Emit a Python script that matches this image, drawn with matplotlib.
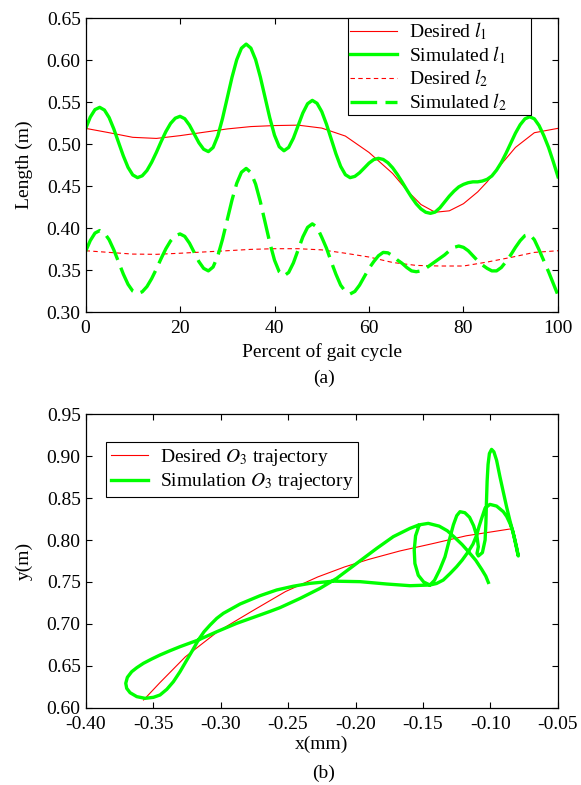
import matplotlib
matplotlib.use("Agg")
import matplotlib.pyplot as plt
from matplotlib.ticker import FormatStrFormatter

plt.rcParams['font.family'] = ['Liberation Serif', 'DejaVu Serif']
plt.rcParams['mathtext.fontset'] = 'stix'
plt.rcParams['axes.unicode_minus'] = False
plt.rcParams['font.size'] = 14

# ---- (a) leg lengths over the gait cycle ----
pct = list(range(0, 101))

sim_l1 = [
    0.518, 0.532, 0.541, 0.5437, 0.5405, 0.5315, 0.5178, 0.5018, 0.4859, 0.4722,
    0.4632, 0.460, 0.4622, 0.4685, 0.4783, 0.4901, 0.5029, 0.5148, 0.5245, 0.5308,
    0.533, 0.5302, 0.5225, 0.512, 0.5015, 0.4938, 0.491, 0.4959, 0.5097, 0.5306,
    0.555, 0.5794, 0.6003, 0.6141, 0.619, 0.6142, 0.6005, 0.5798, 0.5555, 0.5312,
    0.5105, 0.4968, 0.492, 0.496, 0.507, 0.522, 0.537, 0.548, 0.552, 0.5485,
    0.5386, 0.5236, 0.506, 0.4884, 0.4734, 0.4635, 0.460, 0.4615, 0.4658, 0.4715,
    0.4773, 0.4815, 0.483, 0.4817, 0.4778, 0.4717, 0.4638, 0.4549, 0.4456, 0.4367,
    0.4288, 0.4227, 0.4188, 0.4175, 0.419, 0.424, 0.431, 0.438, 0.444, 0.449,
    0.452, 0.454, 0.455, 0.455, 0.456, 0.458, 0.462, 0.469, 0.478, 0.489,
    0.501, 0.513, 0.523, 0.530, 0.5325, 0.530, 0.522, 0.510, 0.496, 0.479,
    0.461,
]

sim_l2 = [
    0.372, 0.385, 0.394, 0.397, 0.3941, 0.386, 0.3738, 0.3595, 0.3452, 0.333,
    0.3249, 0.322, 0.3241, 0.3303, 0.3398, 0.3513, 0.3637, 0.3753, 0.3847, 0.3909,
    0.393, 0.3901, 0.382, 0.371, 0.360, 0.352, 0.349, 0.3536, 0.3668, 0.3867,
    0.410, 0.4333, 0.4532, 0.4664, 0.471, 0.4661, 0.4523, 0.4314, 0.407, 0.3826,
    0.3617, 0.3479, 0.343, 0.3472, 0.3585, 0.374, 0.3895, 0.4008, 0.405, 0.401,
    0.389, 0.376, 0.360, 0.345, 0.332, 0.3245, 0.3215, 0.3245, 0.332, 0.342,
    0.352, 0.360, 0.367, 0.371, 0.3705, 0.367, 0.362, 0.358, 0.353, 0.349,
    0.348, 0.349, 0.352, 0.356, 0.360, 0.364, 0.368, 0.373, 0.377, 0.3786,
    0.377, 0.373, 0.367, 0.361, 0.356, 0.352, 0.349, 0.349, 0.353, 0.360,
    0.368, 0.377, 0.385, 0.391, 0.3925, 0.386, 0.374, 0.361, 0.348, 0.334,
    0.320,
]

pct_des1 = [0, 5, 10, 15, 20, 25, 30, 35, 40, 45, 50, 55, 60, 65, 68, 71, 74, 77,
            80, 83, 85, 88, 91, 95, 100]
des_l1 = [0.5187, 0.5135, 0.508, 0.5067, 0.510, 0.514, 0.518, 0.5208, 0.522, 0.5225,
          0.519, 0.5095, 0.490, 0.465, 0.445, 0.428, 0.4188, 0.4205, 0.429, 0.443,
          0.455, 0.476, 0.496, 0.5135, 0.5187]

pct_des2 = [0, 5, 10, 15, 20, 25, 30, 35, 40, 45, 50, 55, 60, 65, 70, 75, 80, 85,
            90, 95, 100]
des_l2 = [0.373, 0.371, 0.369, 0.3687, 0.370, 0.3715, 0.373, 0.3746, 0.3754, 0.3754,
          0.374, 0.370, 0.3655, 0.359, 0.3555, 0.3548, 0.3548, 0.3595, 0.365, 0.371,
          0.373]

# ---- (b) O3 trajectory ----
des_x = [-0.357, -0.345, -0.326, -0.302, -0.277, -0.252, -0.228, -0.208, -0.190,
         -0.167, -0.142, -0.118, -0.086]
des_y = [0.6095, 0.630, 0.661, 0.691, 0.715, 0.7385, 0.756, 0.768, 0.777,
         0.787, 0.796, 0.805, 0.813]

sim_x = [
    -0.153, -0.1555, -0.1565, -0.156, -0.1535, -0.1495, -0.1449,
    -0.1415, -0.1375, -0.1337, -0.1305, -0.1275, -0.1250, -0.1226,
    -0.1190, -0.1155, -0.1125, -0.1100, -0.1090, -0.1100, -0.1090, -0.1060,
    -0.1040, -0.1034, -0.1030, -0.1025, -0.1018, -0.1008, -0.0992,
    -0.0975, -0.0955, -0.0930, -0.0905, -0.0881, -0.0856, -0.0831, -0.0812, -0.0800, -0.0794,
    -0.0805, -0.0819, -0.0838, -0.0856, -0.0880, -0.0905, -0.0955, -0.1004,
    -0.1040, -0.1065, -0.1085, -0.1102, -0.1130, -0.1165, -0.1210, -0.1251, -0.1300,
    -0.1350, -0.1400, -0.1449,
    -0.1596, -0.1769, -0.1966, -0.2164, -0.2337, -0.2460, -0.2584, -0.2707,
    -0.2855, -0.2979, -0.3028, -0.3077, -0.3122, -0.3164, -0.3206, -0.3250,
    -0.3300, -0.3349, -0.3398, -0.3448, -0.3497, -0.3559,
    -0.3620, -0.3670, -0.3695, -0.3702, -0.3690, -0.3658, -0.3620, -0.3571,
    -0.3510, -0.3448, -0.3374, -0.3300, -0.3164, -0.3028, -0.2880, -0.2756, -0.2633,
    -0.2559, -0.2410, -0.2263, -0.2140, -0.1991, -0.1843, -0.1720, -0.1596,
    -0.1530, -0.1461,
    -0.1380, -0.1320, -0.1265, -0.1210, -0.1160, -0.1110, -0.1065, -0.1035, -0.1016,
]
sim_y = [
    0.817, 0.805, 0.788, 0.772, 0.758, 0.750, 0.7464,
    0.752, 0.765, 0.780, 0.800, 0.818, 0.829, 0.8337,
    0.8325, 0.827, 0.817, 0.804, 0.792, 0.784, 0.781, 0.785,
    0.800, 0.820, 0.845, 0.870, 0.890, 0.903, 0.9079,
    0.905, 0.895, 0.8753, 0.857, 0.8396, 0.823, 0.808, 0.794, 0.785, 0.781,
    0.790, 0.800, 0.812, 0.8198, 0.828, 0.8337, 0.8404, 0.8424,
    0.838, 0.826, 0.816, 0.806, 0.795, 0.786, 0.776, 0.7682, 0.760,
    0.7523, 0.7482, 0.7464,
    0.7456, 0.7476, 0.7504, 0.751, 0.7484, 0.745, 0.7405, 0.7337,
    0.7238, 0.7127, 0.7067, 0.6988, 0.6908, 0.681, 0.669, 0.657,
    0.6432, 0.6313, 0.6222, 0.6155, 0.6127, 0.6115,
    0.6135, 0.6182, 0.6234, 0.6294, 0.6365, 0.6432, 0.648, 0.6532,
    0.6583, 0.6631, 0.6682, 0.673, 0.681, 0.6908, 0.7008, 0.7079, 0.7150,
    0.7195, 0.7305, 0.7424, 0.7543, 0.7722, 0.790, 0.804, 0.8139,
    0.818, 0.8198,
    0.8165, 0.811, 0.803, 0.7945, 0.7855, 0.776, 0.765, 0.757, 0.7495,
]

fig = plt.figure(figsize=(5.81, 7.85), dpi=100)
ax1 = fig.add_axes([0.1472, 0.6025, 0.8132, 0.3745])
ax2 = fig.add_axes([0.1472, 0.0981, 0.8132, 0.3745])

ax1.plot(pct_des1, des_l1, color='#ff0000', lw=0.8, label='Desired $l_1$')
ax1.plot(pct, sim_l1, color='#00ff00', lw=2.4, label='Simulated $l_1$')
ax1.plot(pct_des2, des_l2, color='#ff0000', lw=0.8, dashes=(4, 3), label='Desired $l_2$')
ax1.plot(pct, sim_l2, color='#00ff00', lw=2.4, dashes=(8, 2.5), label='Simulated $l_2$')
ax1.set_xlim(0, 100)
ax1.set_ylim(0.30, 0.65)
ax1.set_xticks(range(0, 101, 20))
ax1.set_yticks([0.30, 0.35, 0.40, 0.45, 0.50, 0.55, 0.60, 0.65])
ax1.yaxis.set_major_formatter(FormatStrFormatter('%.2f'))
ax1.set_xlabel('Percent of gait cycle', labelpad=4)
ax1.set_ylabel('Length (m)', labelpad=10)
leg1 = ax1.legend(loc='upper left', bbox_to_anchor=(0.5556, 0.0, 0.3873, 1.0), mode='expand',
                  borderaxespad=0, fancybox=False, edgecolor='black', framealpha=1, fontsize=14,
                  handlelength=2.4, labelspacing=0.1, borderpad=0.12, handletextpad=0.6)
leg1.get_frame().set_linewidth(0.8)

ax2.plot(des_x, des_y, color='#ff0000', lw=0.8, label='Desired $O_3$ trajectory')
ax2.plot(sim_x, sim_y, color='#00ff00', lw=2.4, label='Simulation $O_3$ trajectory')
ax2.set_xlim(-0.40, -0.05)
ax2.set_ylim(0.60, 0.95)
ax2.set_xticks([-0.40, -0.35, -0.30, -0.25, -0.20, -0.15, -0.10, -0.05])
ax2.set_yticks([0.60, 0.65, 0.70, 0.75, 0.80, 0.85, 0.90, 0.95])
ax2.xaxis.set_major_formatter(FormatStrFormatter('%.2f'))
ax2.yaxis.set_major_formatter(FormatStrFormatter('%.2f'))
ax2.set_xlabel('x(mm)', labelpad=2)
ax2.set_ylabel('y(m)', labelpad=10)
leg2 = ax2.legend(loc='upper left', bbox_to_anchor=(0.0434, 0.906), borderaxespad=0,
                  fancybox=False, edgecolor='black', framealpha=1, fontsize=14,
                  handlelength=1.9, labelspacing=0.2, borderpad=0.25, handletextpad=0.6)
leg2.get_frame().set_linewidth(0.8)

for ax in (ax1, ax2):
    ax.tick_params(direction='in', top=True, right=True, length=4, width=0.8, labelsize=14)
    ax.tick_params(axis='x', pad=6)
    for s in ax.spines.values():
        s.set_linewidth(0.9)

fig.text(0.5577, 1 - 378 / 785, '(a)', ha='center', va='center', fontsize=14)
fig.text(0.5577, 1 - 773 / 785, '(b)', ha='center', va='center', fontsize=14)

fig.savefig('out.png', dpi=100)
